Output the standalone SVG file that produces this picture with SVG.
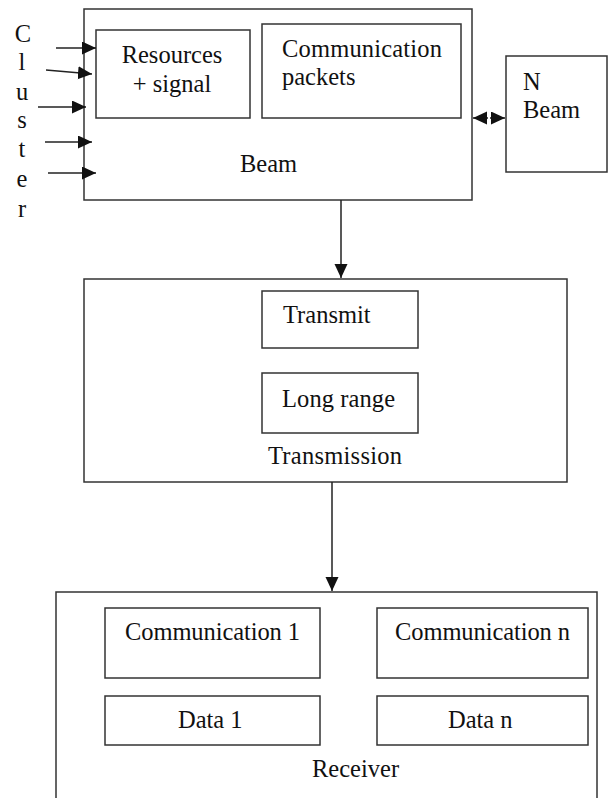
<svg xmlns="http://www.w3.org/2000/svg" width="609" height="798" viewBox="0 0 609 798">
<defs>
<marker id="ah" markerUnits="userSpaceOnUse" markerWidth="16" markerHeight="14" refX="14" refY="6.5" orient="auto">
<path d="M0,0 L14,6.5 L0,13 Z" fill="#111"/>
</marker>
<style>
.box{fill:#fff;stroke:#333;stroke-width:1.5}
.t{font-family:"Liberation Serif","Times New Roman",serif;font-size:24.5px;fill:#111}
.c{stroke:#222;stroke-width:1.5;fill:none}
</style>
</defs>
<rect width="609" height="798" fill="#fff"/>

<g id="cluster">
<text class="t" text-anchor="middle" x="23" y="42">C</text>
<text class="t" text-anchor="middle" x="22" y="70">l</text>
<text class="t" text-anchor="middle" x="22" y="100">u</text>
<text class="t" text-anchor="middle" x="22" y="128">s</text>
<text class="t" text-anchor="middle" x="22" y="157">t</text>
<text class="t" text-anchor="middle" x="22" y="187">e</text>
<text class="t" text-anchor="middle" x="22" y="217">r</text>
</g>

<g id="beam">
<rect class="box" x="84" y="9" width="388" height="191"/>
<text class="t" x="240" y="172">Beam</text>
</g>
<g id="resources">
<rect class="box" x="96" y="30" width="154" height="88"/>
<text class="t" text-anchor="middle" x="172" y="63">Resources</text>
<text class="t" text-anchor="middle" x="172" y="92">+ signal</text>
</g>
<g id="packets">
<rect class="box" x="262" y="24" width="199" height="94"/>
<text class="t" x="282" y="57" textLength="160">Communication</text>
<text class="t" x="282" y="85">packets</text>
</g>
<g id="nbeam">
<rect class="box" x="506" y="56" width="101" height="116"/>
<text class="t" x="523" y="90">N</text>
<text class="t" x="523" y="118">Beam</text>
</g>

<g id="transmission">
<rect class="box" x="84" y="279" width="483" height="203"/>
<text class="t" x="268" y="464" textLength="134">Transmission</text>
</g>
<g id="transmit">
<rect class="box" x="262" y="291" width="156" height="57"/>
<text class="t" x="283" y="323">Transmit</text>
</g>
<g id="longrange">
<rect class="box" x="262" y="373" width="156" height="60"/>
<text class="t" x="282" y="407" textLength="113">Long range</text>
</g>

<g id="receiver">
<rect class="box" x="56" y="592" width="541" height="220"/>
<text class="t" x="312" y="777">Receiver</text>
</g>
<g id="comm1">
<rect class="box" x="105" y="608" width="215" height="70"/>
<text class="t" x="125" y="640" textLength="175">Communication 1</text>
</g>
<g id="data1">
<rect class="box" x="105" y="696" width="215" height="49"/>
<text class="t" x="178" y="728">Data 1</text>
</g>
<g id="commn">
<rect class="box" x="377" y="608" width="211" height="70"/>
<text class="t" x="395" y="640" textLength="175">Communication n</text>
</g>
<g id="datan">
<rect class="box" x="377" y="696" width="211" height="49"/>
<text class="t" x="448" y="728">Data n</text>
</g>

<g id="connectors">
<line class="c" x1="56" y1="48" x2="96" y2="48" marker-end="url(#ah)"/>
<line class="c" x1="46" y1="70" x2="92" y2="74" marker-end="url(#ah)"/>
<line class="c" x1="38" y1="107" x2="86" y2="107" marker-end="url(#ah)"/>
<line class="c" x1="45" y1="142" x2="92" y2="142" marker-end="url(#ah)"/>
<line class="c" x1="48" y1="173" x2="96" y2="173" marker-end="url(#ah)"/>
<line class="c" x1="488" y1="118" x2="473" y2="118" marker-end="url(#ah)"/>
<line class="c" x1="490" y1="118" x2="505" y2="118" marker-end="url(#ah)"/>
<line class="c" x1="341" y1="200" x2="341" y2="278" marker-end="url(#ah)"/>
<line class="c" x1="332" y1="482" x2="332" y2="591" marker-end="url(#ah)" stroke="#555"/>
</g>
</svg>
